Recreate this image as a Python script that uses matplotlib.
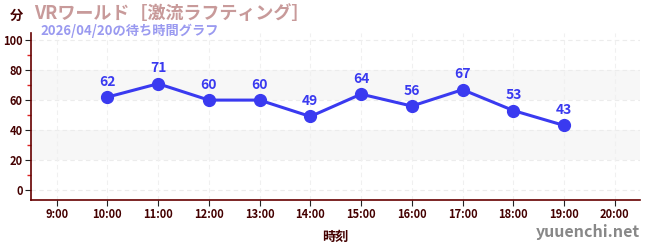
import matplotlib
matplotlib.use("Agg")
import matplotlib.pyplot as plt
from matplotlib.ticker import MultipleLocator

plt.rcParams['font.family'] = ['Noto Sans CJK JP', 'DejaVu Sans']

hours = [10, 11, 12, 13, 14, 15, 16, 17, 18, 19]
waits = [62, 71, 60, 60, 49, 64, 56, 67, 53, 43]
xticks = list(range(9, 21))
xticklabels = [f"{h}:00" for h in xticks]
yticks = [0, 20, 40, 60, 80, 100]
title = "VRワールド［激流ラフティング］"
subtitle = "2026/04/20の待ち時間グラフ"

fig = plt.figure(figsize=(6.5, 2.5), dpi=100)
ax = fig.add_axes([0.048, 0.2, 0.937, 0.668])
ax.set_xlim(8.5, 20.5)
ax.set_ylim(-7, 105)

for lo, hi in [(20, 40), (60, 80)]:
    ax.axhspan(lo, hi, color='#f7f7f7', zorder=0, lw=0)
for y in yticks:
    ax.axhline(y, color='#ececec', lw=0.8, ls=(0, (4, 3)), zorder=0.5)
for x in xticks:
    ax.axvline(x, color='#f0f0f0', lw=0.8, ls=(0, (4, 3)), zorder=0.5)

ax.plot(hours, waits, color='#3a3af0', lw=2.2, marker='o', ms=8.5, zorder=3)
for h, w in zip(hours, waits):
    ax.annotate(str(w), (h, w), xytext=(0, 6), textcoords='offset points',
                ha='center', va='bottom', color='#3a3af0', fontsize=10,
                fontweight='bold', zorder=4)

ax.set_xticks(xticks)
ax.set_xticklabels(xticklabels)
ax.set_yticks(yticks)
ax.yaxis.set_minor_locator(MultipleLocator(10))
ax.tick_params(axis='y', which='minor', length=3, color='#dd2222', width=1)
ax.tick_params(axis='both', which='major', length=4, color='#222222', labelsize=8,
               labelcolor='#440000', pad=2)
for lab in ax.get_xticklabels() + ax.get_yticklabels():
    lab.set_fontweight('bold')
for s in ['top', 'right']:
    ax.spines[s].set_visible(False)
for s in ['left', 'bottom']:
    ax.spines[s].set_color('#660000')
    ax.spines[s].set_linewidth(1.2)

ax.set_xlabel("時刻", color='#440000', fontsize=9.5, fontweight='bold', labelpad=6)

fig.text(0.015, 0.935, "分", color='#440000', fontsize=9.5, fontweight='bold', va='center')
fig.text(0.052, 0.945, title, color='#c89a9a', fontsize=13, fontweight='bold', va='center')
fig.text(0.062, 0.875, subtitle, color='#9a9af0', fontsize=9.5, fontweight='bold', va='center')
fig.text(0.985, 0.07, "yuuenchi.net", color='#888888', fontsize=11.5, fontweight='bold',
         ha='right', va='center')

fig.savefig("out.png", dpi=100)
